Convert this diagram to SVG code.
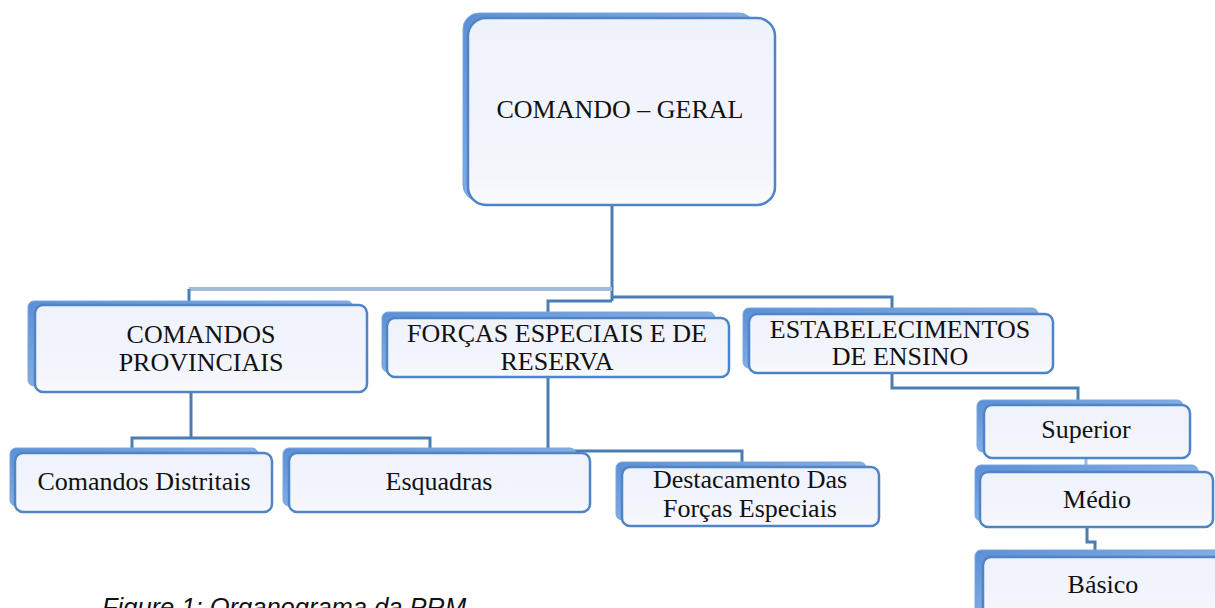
<svg xmlns="http://www.w3.org/2000/svg" width="1215" height="608" viewBox="0 0 1215 608">
<defs>
<linearGradient id="gMain" x1="0" y1="0" x2="0" y2="1">
<stop offset="0" stop-color="#eef2fb"/>
<stop offset="0.85" stop-color="#f4f6fc"/>
<stop offset="1" stop-color="#fbfbfe"/>
</linearGradient>
<linearGradient id="gBack" x1="0" y1="0" x2="1" y2="1">
<stop offset="0" stop-color="#5b8fd6"/>
<stop offset="1" stop-color="#a9c8ef"/>
</linearGradient>
<style>
.back{fill:url(#gBack);stroke:#7aa6de;stroke-width:1}
.main{fill:url(#gMain);stroke:#4f85c6;stroke-width:2.5}
.t{font-family:"Liberation Serif","Times New Roman",serif;font-size:26px;fill:#111;text-anchor:middle}
.c{fill:none;stroke:#4a7db4;stroke-width:3}
.cl{fill:none;stroke:#a3bcdb;stroke-width:4}
.cf{fill:none;stroke:#9fbbdc;stroke-width:3}
.cap{font-family:"Liberation Sans",Arial,sans-serif;font-size:25.5px;font-style:italic;fill:#111}
</style>
</defs>
<rect width="1215" height="608" fill="#ffffff"/>
<g id="connectors">
<path class="c" d="M612 205 V301"/>
<path class="cl" d="M612 289 H189"/>
<path class="c" d="M189 289 V302"/>
<path class="c" d="M612 297 H892 V309"/>
<path class="c" d="M612 301 H548 V313"/>
<path class="c" d="M191 392 V438"/>
<path class="c" d="M132 448 V438 H430 V448"/>
<path class="c" d="M548 377 V451 H742 V463"/>
<path class="c" d="M892 373 V388 H1078 V401"/>
<path class="cf" d="M1086 458 V466"/>
<path class="c" d="M1087 527 V542 H1095 V551"/>
</g>
<g id="n-geral">
<rect class="back" x="463" y="13" width="292" height="188" rx="16"/>
<rect class="main" x="468" y="18" width="307" height="187" rx="18"/>
<text class="t" x="620" y="118">COMANDO – GERAL</text>
</g>
<g id="n-provinciais">
<rect class="back" x="28" y="301" width="325" height="85" rx="6"/>
<rect class="main" x="35" y="305" width="332" height="87" rx="8"/>
<text class="t" x="201" y="343">COMANDOS</text>
<text class="t" x="201" y="371">PROVINCIAIS</text>
</g>
<g id="n-forcas">
<rect class="back" x="382" y="312" width="333" height="60" rx="6"/>
<rect class="main" x="387" y="318" width="342" height="59" rx="8"/>
<text class="t" x="557" y="342">FORÇAS ESPECIAIS  E DE</text>
<text class="t" x="557" y="370">RESERVA</text>
</g>
<g id="n-ensino">
<rect class="back" x="743" y="308" width="295" height="60" rx="6"/>
<rect class="main" x="749" y="314" width="304" height="59" rx="8"/>
<text class="t" x="900" y="338">ESTABELECIMENTOS</text>
<text class="t" x="900" y="365">DE ENSINO</text>
</g>
<g id="n-distritais">
<rect class="back" x="10" y="448" width="248" height="58" rx="6"/>
<rect class="main" x="15" y="453" width="257" height="59" rx="8"/>
<text class="t" x="144" y="490">Comandos Distritais</text>
</g>
<g id="n-esquadras">
<rect class="back" x="283" y="448" width="293" height="58" rx="6"/>
<rect class="main" x="289" y="453" width="301" height="59" rx="8"/>
<text class="t" x="439" y="490">Esquadras</text>
</g>
<g id="n-destacamento">
<rect class="back" x="616" y="462" width="250" height="58" rx="6"/>
<rect class="main" x="622" y="467" width="257" height="59" rx="8"/>
<text class="t" x="750" y="488">Destacamento Das</text>
<text class="t" x="750" y="517">Forças Especiais</text>
</g>
<g id="n-superior">
<rect class="back" x="977" y="400" width="206" height="52" rx="6"/>
<rect class="main" x="984" y="405" width="206" height="53" rx="8"/>
<text class="t" x="1086" y="438">Superior</text>
</g>
<g id="n-medio">
<rect class="back" x="975" y="465" width="223" height="56" rx="6"/>
<rect class="main" x="980" y="472" width="233" height="55" rx="8"/>
<text class="t" x="1097" y="508">Médio</text>
</g>
<g id="n-basico">
<rect class="back" x="975" y="550" width="250" height="70" rx="6"/>
<rect class="main" x="983" y="557" width="245" height="65" rx="8"/>
<text class="t" x="1103" y="593">Básico</text>
</g>
<text class="cap" x="102" y="616">Figure 1: Organograma da PRM</text>
</svg>
